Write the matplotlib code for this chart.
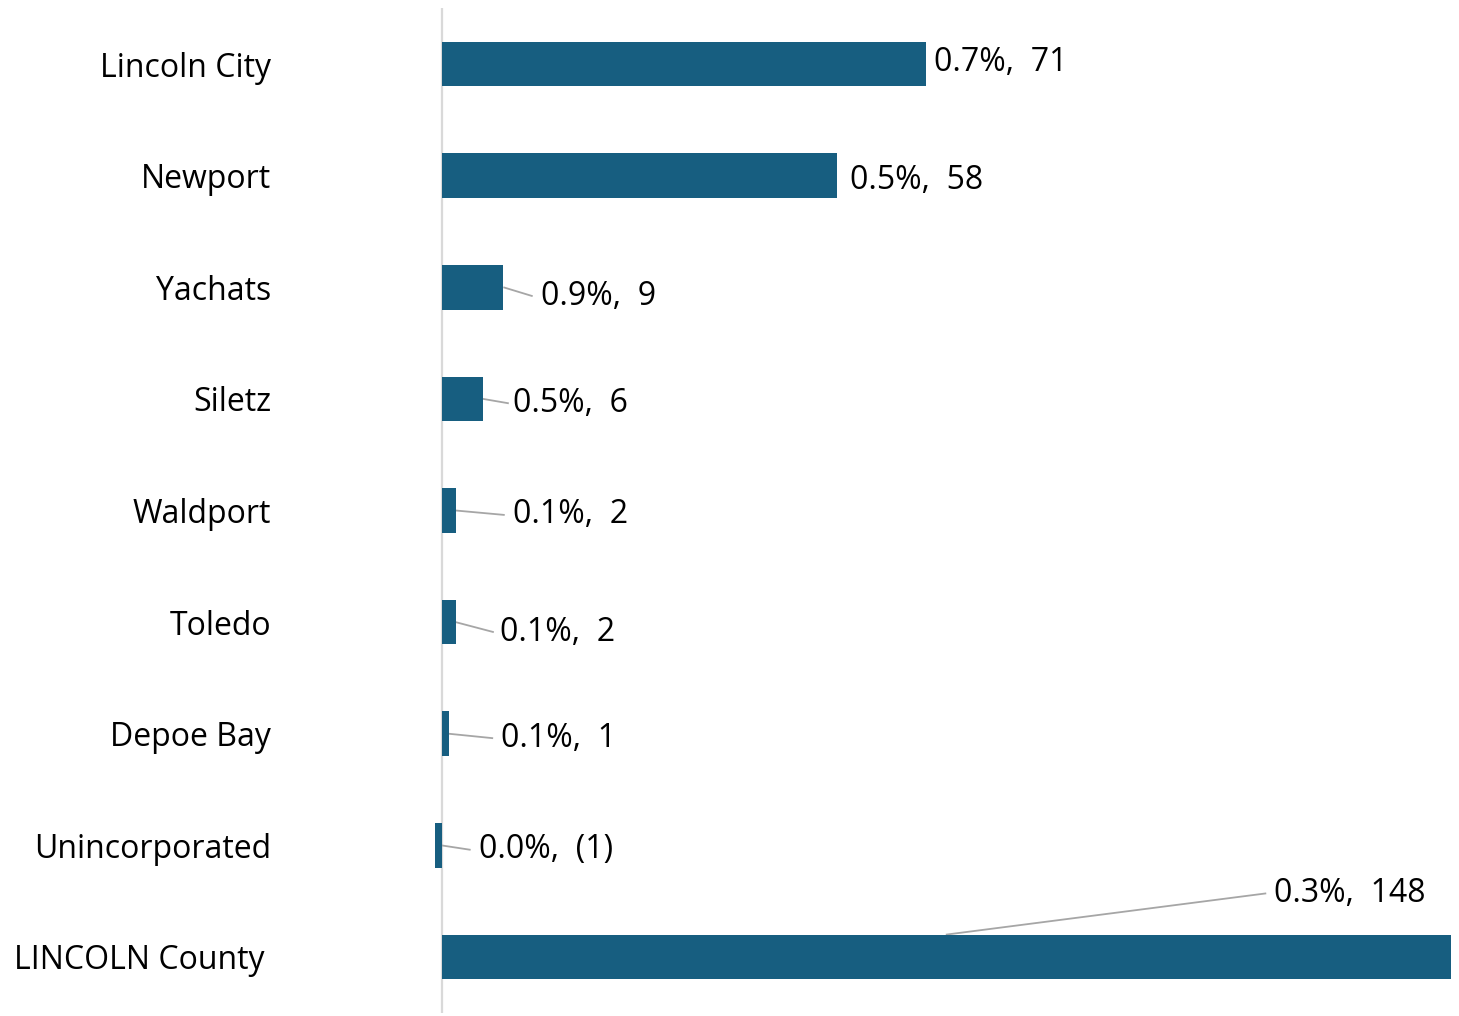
import matplotlib
matplotlib.use("Agg")
import matplotlib.pyplot as plt
from matplotlib.transforms import ScaledTranslation

# ---- data ----
categories = ["Lincoln City", "Newport", "Yachats", "Siletz", "Waldport",
              "Toledo", "Depoe Bay", "Unincorporated", "LINCOLN County"]
change = [71, 58, 9, 6, 2, 2, 1, -1, 148]
pct_change = [0.7, 0.5, 0.9, 0.5, 0.1, 0.1, 0.1, 0.0, 0.3]

# ---- label layout (data-unit offsets for label placement) ----
# (text x, text y offset, leader start x, leader start y offset, leader end x)
label_layout = [
    (72.2, -0.01, None, None, None),
    (59.8, 0.04, None, None, None),
    (14.5, 0.08, None, 0.0, 13.3),
    (10.4, 0.04, None, 0.0, 9.8),
    (10.4, 0.04, None, 0.0, 9.2),
    (8.5, 0.09, None, 0.0, 7.6),
    (8.6, 0.04, None, 0.0, 7.5),
    (5.4, 0.04, -0.1, 0.0, 4.2),
    (122.0, -0.57, 73.9, -0.2, 120.9),
]

BAR = "#175E80"
GREY = "#A6A6A6"
FONT = ["Open Sans", "DejaVu Sans"]
FS = 23

W, H, DPI = 1459, 1016, 100
fig = plt.figure(figsize=(W / DPI, H / DPI), dpi=DPI)

x0_px, x148_px = 442, 1451
ppu = (x148_px - x0_px) / 148.0
xmin, xmax = -1.5, 148.3
left_px = x0_px + xmin * ppu
right_px = x0_px + xmax * ppu
top_px, bot_px = 8.2, 1012.8
ax = fig.add_axes([left_px / W, 1 - bot_px / H, (right_px - left_px) / W, (bot_px - top_px) / H])

y = list(range(len(categories)))
ax.barh(y, change, height=0.4, color=BAR, zorder=3)
ax.set_xlim(xmin, xmax)
ax.set_ylim(8.5, -0.5)
ax.axvline(0, color="#D9D9D9", lw=1.6, zorder=1)

for s in ax.spines.values():
    s.set_visible(False)
ax.set_xticks([])
ax.set_yticks(y)
ax.set_yticklabels(categories, fontsize=FS, family=FONT)
ax.tick_params(axis="y", length=0, pad=(442 - 271 - (x0_px - left_px)) * 72 / DPI)
last = ax.get_yticklabels()[-1]
last.set_transform(last.get_transform() + ScaledTranslation(-6 / DPI, 0, fig.dpi_scale_trans))

def fmt(p, v):
    vs = f"({abs(v)})" if v < 0 else f"{v}"
    return f"{p:.1f}%,  {vs}"

for i, (p, v) in enumerate(zip(pct_change, change)):
    tx, tdy, lx, ldy, lex = label_layout[i]
    ax.text(tx, i + tdy, fmt(p, v), ha="left", va="center", fontsize=FS,
            family=FONT, color="black")
    if lex is not None:
        sx = lx if lx is not None else v
        ax.plot([sx, lex], [i + ldy, i + tdy], color=GREY, lw=1.3, zorder=2,
                solid_capstyle="butt", clip_on=False)

fig.savefig("out.png", dpi=DPI, facecolor="white")
